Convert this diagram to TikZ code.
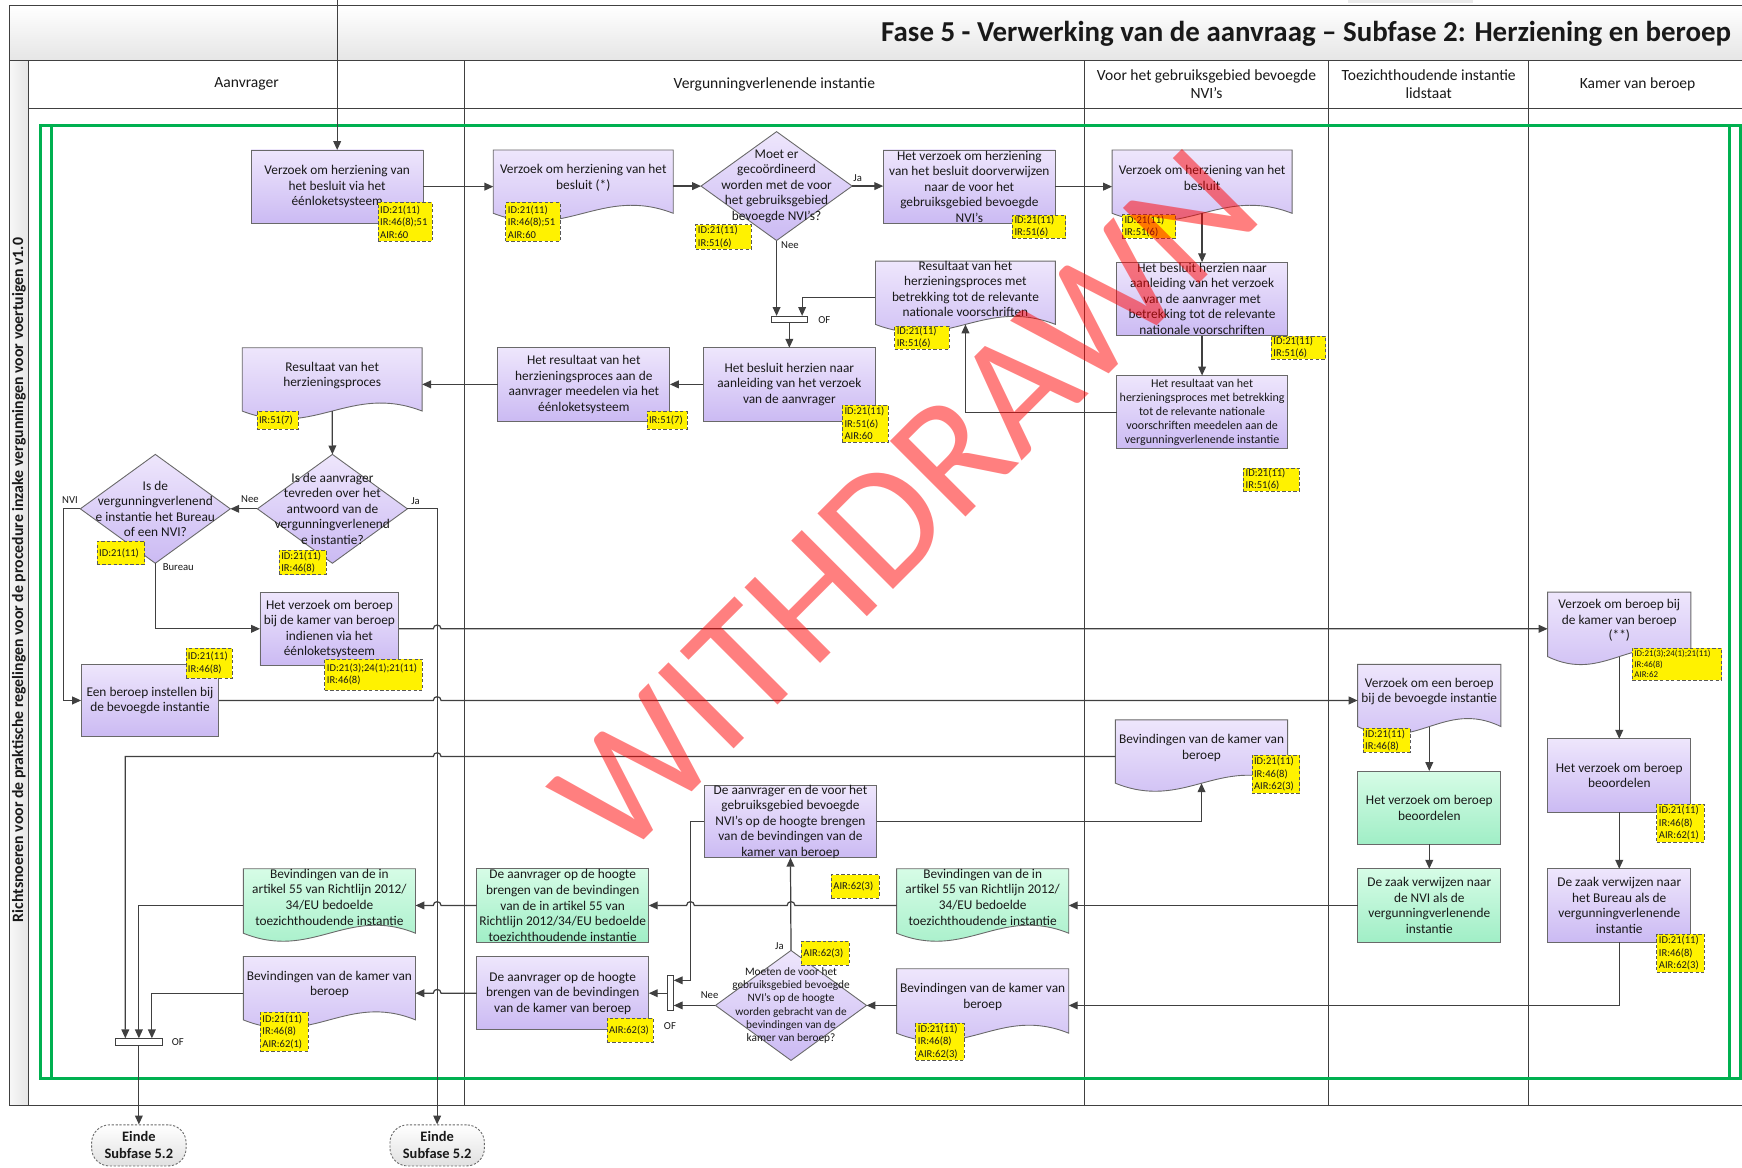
\documentclass[tikz,border=0pt]{standalone}
\usepackage{fontspec}
\setmainfont{Carlito}
\usetikzlibrary{shapes.geometric,arrows.meta,calc}
\definecolor{pTop}{RGB}{238,230,252}
\definecolor{pBot}{RGB}{203,186,243}
\definecolor{gTop}{RGB}{214,252,230}
\definecolor{gBot}{RGB}{160,238,198}
\definecolor{bordc}{RGB}{105,105,105}
\definecolor{linec}{RGB}{64,64,64}
\definecolor{frameg}{RGB}{0,176,80}
\definecolor{txtc}{RGB}{25,25,25}
\tikzset{
 shp/.style={draw=bordc, line width=0.8pt, inner sep=0pt, outer sep=0pt},
 pfill/.style={top color=pTop, bottom color=pBot},
 gfill/.style={top color=gTop, bottom color=gBot},
 txt/.style={font=\fontsize{12}{14}\selectfont, align=center, text=txtc, inner sep=0pt},
 ntxt/.style={font=\fontsize{10.8}{12.6}\selectfont, align=center, text=txtc, inner sep=0pt},
 dktxt/.style={font=\fontsize{10.2}{11.9}\selectfont, align=center, text=txtc, inner sep=0pt},
 note/.style={draw=black!65, dash pattern=on 3pt off 2pt, fill=yellow, font=\fontsize{9.5}{11.2}\selectfont, align=left, inner xsep=2pt, inner ysep=0pt, anchor=north west, text=txtc},
 flow/.style={draw=linec, line width=1.1pt, -{Triangle[length=8pt,width=7pt]}},
 lbl/.style={font=\fontsize{9.6}{11}\selectfont, text=txtc, inner sep=0pt},
 lane/.style={draw=linec, line width=0.9pt},
 hdr/.style={font=\fontsize{14}{16.5}\selectfont, align=center, text=txtc, inner sep=0pt},
 barbox/.style={draw=linec, fill=white, line width=0.8pt, inner sep=0pt},
 term/.style={draw=bordc, dash pattern=on 2pt off 1.5pt, rounded corners=16pt, top color=white, bottom color=black!12, line width=0.8pt, inner sep=0pt, align=center, font=\bfseries\fontsize{13}{15.3}\selectfont, text=txtc},
}
\newcommand\bx[8]{%
 \pgfmathsetmacro\mybw{#5-#3}\pgfmathsetmacro\mybh{#6-#4}%
 \node[shp,#2,minimum width=\mybw pt,minimum height=\mybh pt] (#1) at ({(#3+#5)/2},{(#4+#6)/2}) {};
 \node[#7] (#1t) at (#1.center) {#8};}
\newcommand\dc[8]{%
 \pgfmathsetmacro\mybw{#5-#3}\pgfmathsetmacro\mybh{#6-#4}\pgfmathsetmacro\mywa{0.4*(#5-#3)}%
 \node[inner sep=0pt,outer sep=0pt,minimum width=\mybw pt,minimum height=\mybh pt] (#1) at ({(#3+#5)/2},{(#4+#6)/2}) {};
 \path[shp,#2] (#1.north west) -- (#1.north east) -- (#1.south east) .. controls +(-\mywa,-25) and +(\mywa,25) .. (#1.south west) -- cycle;
 \node[#7] (#1t) at ([yshift=3.5pt]#1.center) {#8};}
\newcommand\dm[7]{%
 \node[shp,pfill,diamond,minimum width=#4pt,minimum height=#5pt] (#1) at (#2,#3) {};
 \node[#6] (#1t) at (#1.center) {#7};}
\newcommand\nt[6]{%
 \pgfmathsetmacro\mybw{#4-#2}\pgfmathsetmacro\mybh{#5-#3}\pgfmathsetmacro\mytw{#4-#2-4}%
 \node[note,minimum width=\mybw pt,minimum height=\mybh pt,text width=\mytw pt] (#1) at (#2,#3) {#6};}
\newcommand\hopR[1]{-- ($#1+(-3.5,0)$) .. controls +(0,-4.5) and +(0,-4.5) .. ($#1+(3.5,0)$)}
\newcommand\hopL[1]{-- ($#1+(3.5,0)$) .. controls +(0,-4.5) and +(0,-4.5) .. ($#1+(-3.5,0)$)}
\begin{document}
\begin{tikzpicture}[x=1pt,y=-1pt]
\useasboundingbox (0,0) rectangle (1568,1051);
\fill[white] (0,0) rectangle (1568,1051);
% ---------- frame ----------
\path[top color=white, bottom color=black!10] (8.3,4.8) rectangle (1570,54.3);
\path[left color=black!3, right color=black!10] (8.3,54.3) rectangle (25.5,995.4);
\fill[black!8] (1213,0) rectangle (1326,2.5);
\draw[lane] (1570,4.8) -- (8.3,4.8) -- (8.3,995.4) -- (1570,995.4);
\draw[lane] (8.3,54.3) -- (1570,54.3);
\draw[lane] (25.5,97.5) -- (1570,97.5);
\foreach \xx in {25.5,418.5,975.8,1196,1376} \draw[lane] (\xx,54.3) -- (\xx,995.4);
\draw[frameg, line width=2.6pt] (36.5,113) rectangle (1567,971);
\draw[frameg, line width=2.6pt] (46,113) -- (46,971);
\draw[frameg, line width=2.6pt] (1557,113) -- (1557,971);
\node[font=\bfseries\fontsize{26}{30}\selectfont, anchor=west, inner sep=0pt, text=txtc] (title) at (793,30) {Fase 5 - Verwerking van de aanvraag – Subfase 2: Herziening en beroep};
\node[rotate=90, font=\bfseries\fontsize{14.2}{16}\selectfont, inner sep=0pt, text=txtc] (strip) at (17,522) {Richtsnoeren voor de praktische regelingen voor de procedure inzake vergunningen voor voertuigen v1.0};
\node[hdr] (h1) at (222,75.6) {Aanvrager};
\node[hdr] (h2) at (697,75.6) {Vergunningverlenende instantie};
\node[hdr] (h3) at (1086,75.6) {Voor het gebruiksgebied bevoegde\\NVI’s};
\node[hdr] (h4) at (1286,75.6) {Toezichthoudende instantie\\lidstaat};
\node[hdr] (h5) at (1474,75.6) {Kamer van beroep};
% ---------- boxes ----------
\bx{A1}{pfill}{226}{135}{381}{201}{txt}{Verzoek om herziening van\\het besluit via het\\éénloketsysteem}
\bx{V2}{pfill}{795}{135}{950}{201}{txt}{Het verzoek om herziening\\van het besluit doorverwijzen\\naar de voor het\\gebruiksgebied bevoegde\\NVI’s}
\bx{N2}{pfill}{1005}{236}{1159}{302}{txt}{Het besluit herzien naar\\aanleiding van het verzoek\\van de aanvrager met\\betrekking tot de relevante\\nationale voorschriften}
\bx{N3}{pfill}{1005}{338}{1159}{404}{ntxt}{Het resultaat van het\\herzieningsproces met betrekking\\tot de relevante nationale\\voorschriften meedelen aan de\\vergunningverlenende instantie}
\bx{V3}{pfill}{633}{313}{788}{379}{txt}{Het besluit herzien naar\\aanleiding van het verzoek\\van de aanvrager}
\bx{V4}{pfill}{448}{313}{603}{379}{txt}{Het resultaat van het\\herzieningsproces aan de\\aanvrager meedelen via het\\éénloketsysteem}
\bx{A3}{pfill}{234}{533}{359}{599}{txt}{Het verzoek om beroep\\bij de kamer van beroep\\indienen via het\\éénloketsysteem}
\bx{A4}{pfill}{73}{598}{197}{663}{txt}{Een beroep instellen bij\\de bevoegde instantie}
\bx{V6}{pfill}{634}{707}{789}{772}{txt}{De aanvrager en de voor het\\gebruiksgebied bevoegde\\NVI’s op de hoogte brengen\\van de bevindingen van de\\kamer van beroep}
\bx{V7}{gfill}{429}{782}{584}{848}{txt}{De aanvrager op de hoogte\\brengen van de bevindingen\\van de in artikel 55 van\\Richtlijn 2012/34/EU bedoelde\\toezichthoudende instantie}
\bx{V8}{pfill}{429}{861}{584}{927}{txt}{De aanvrager op de hoogte\\brengen van de bevindingen\\van de kamer van beroep}
\bx{T2}{gfill}{1222}{694}{1351}{760}{txt}{Het verzoek om beroep\\beoordelen}
\bx{T3}{gfill}{1222}{782}{1351}{848}{txt}{De zaak verwijzen naar\\de NVI als de\\vergunningverlenende\\instantie}
\bx{K2}{pfill}{1393}{665}{1522}{731}{txt}{Het verzoek om beroep\\beoordelen}
\bx{K3}{pfill}{1393}{782}{1522}{848}{txt}{De zaak verwijzen naar\\het Bureau als de\\vergunningverlenende\\instantie}
% ---------- documents ----------
\dc{V1}{pfill}{444}{135}{606}{192}{txt}{Verzoek om herziening van het\\besluit (*)}
\dc{N1}{pfill}{1001}{135}{1163}{192}{txt}{Verzoek om herziening van het\\besluit}
\dc{V5}{pfill}{788}{235}{950}{292}{txt}{Resultaat van het\\herzieningsproces met\\betrekking tot de relevante\\nationale voorschriften}
\dc{A2}{pfill}{218}{313}{380}{370}{txt}{Resultaat van het\\herzieningsproces}
\dc{A5}{gfill}{219}{782}{374}{840}{txt}{Bevindingen van de in\\artikel 55 van Richtlijn 2012/\\34/EU bedoelde\\toezichthoudende instantie}
\dc{A6}{pfill}{219}{861}{374}{918}{txt}{Bevindingen van de kamer van\\beroep}
\dc{V9}{gfill}{807}{782}{962}{840}{txt}{Bevindingen van de in\\artikel 55 van Richtlijn 2012/\\34/EU bedoelde\\toezichthoudende instantie}
\dc{V10}{pfill}{807}{872}{962}{930}{txt}{Bevindingen van de kamer van\\beroep}
\dc{N4}{pfill}{1004}{648}{1159}{705}{txt}{Bevindingen van de kamer van\\beroep}
\dc{T1}{pfill}{1222}{598}{1351}{654}{txt}{Verzoek om een beroep\\bij de bevoegde instantie}
\dc{K1}{pfill}{1393}{533}{1522}{591}{txt}{Verzoek om beroep bij\\de kamer van beroep\\(**)}
% ---------- diamonds ----------
\dm{Dm}{699}{167.5}{136}{98}{txt}{Moet er\\gecoördineerd\\worden met de voor\\het gebruiksgebied\\bevoegde NVI’s?}
\dm{D1}{299.2}{458}{135}{98}{txt}{Is de aanvrager\\tevreden over het\\antwoord van de\\vergunningverlenend\\e instantie?}
\dm{D2}{139.8}{458}{135}{98}{txt}{Is de\\vergunningverlenend\\e instantie het Bureau\\of een NVI?}
\dm{Dk}{712}{905}{136}{99}{dktxt}{Moeten de voor het\\gebruiksgebied bevoegde\\NVI’s op de hoogte\\worden gebracht van de\\bevindingen van de\\kamer van beroep?}
% ---------- bars and terminators ----------
\node[barbox, minimum width=33pt, minimum height=5.5pt] (bar1) at (710.5,287.5) {};
\node[barbox, minimum width=42pt, minimum height=6pt] (barL) at (125,938) {};
\node[barbox, minimum width=5.5pt, minimum height=31pt] (bar2) at (603.3,893.7) {};
\node[term, minimum width=85pt, minimum height=37pt] (E1) at (125,1031) {Einde\\Subfase 5.2};
\node[term, minimum width=85pt, minimum height=37pt] (E2) at (393.5,1031) {Einde\\Subfase 5.2};
% ---------- notes ----------
\nt{n1}{340}{182}{389}{217}{ID:21(11)\\IR:46(8);51\\AIR:60}
\nt{n2}{455}{182}{504}{217}{ID:21(11)\\IR:46(8);51\\AIR:60}
\nt{n3}{626}{202}{676}{224}{ID:21(11)\\IR:51(6)}
\nt{n4}{911}{193.5}{959}{214}{ID:21(11)\\IR:51(6)}
\nt{n5}{1010}{193}{1058}{214}{ID:21(11)\\IR:51(6)}
\nt{n6}{1144}{302}{1193}{323}{ID:21(11)\\IR:51(6)}
\nt{n7}{1119}{421}{1169}{442}{ID:21(11)\\IR:51(6)}
\nt{n8}{805}{293}{854}{314}{ID:21(11)\\IR:51(6)}
\nt{n9}{758}{364.5}{799}{397.5}{ID:21(11)\\IR:51(6)\\AIR:60}
\nt{n10}{582}{370}{618}{386}{IR:51(7)}
\nt{n11}{231}{370}{268}{386}{IR:51(7)}
\nt{n12}{251}{495}{293}{517}{ID:21(11)\\IR:46(8)}
\nt{n13}{87}{487}{130}{508}{ID:21(11)}
\nt{n14}{292}{593}{380}{621}{ID:21(3);24(1);21(11)\\IR:46(8)}
\nt{n15}{167}{583}{209}{610}{ID:21(11)\\IR:46(8)}
\nt{n16}{234}{911}{277}{946}{ID:21(11)\\IR:46(8)\\AIR:62(1)}
\nt{n17}{748}{787}{791}{808}{AIR:62(3)}
\nt{n18}{546}{916.5}{588}{938}{AIR:62(3)}
\nt{n19}{721}{847}{764}{868.5}{AIR:62(3)}
\nt{n20}{824}{921}{867.5}{954}{ID:21(11)\\IR:46(8)\\AIR:62(3)}
\nt{n21}{1126.6}{679.5}{1169.5}{714}{ID:21(11)\\IR:46(8)\\AIR:62(3)}
\nt{n22}{1226.6}{655.5}{1269}{676.5}{ID:21(11)\\IR:46(8)}
\node[note, font=\fontsize{8}{9.5}\selectfont, minimum width=80.5pt, minimum height=29pt, text width=76.5pt] (n23) at (1469,583) {ID:21(3);24(1);21(11)\\IR:46(8)\\AIR:62};
\nt{n24}{1491}{723.6}{1534}{757.5}{ID:21(11)\\IR:46(8)\\AIR:62(1)}
\nt{n25}{1491}{840.6}{1534}{875}{ID:21(11)\\IR:46(8)\\AIR:62(3)}
% ---------- labels ----------
\node[lbl] (lJa1) at (772,160) {Ja};
\node[lbl] (lNee1) at (711,221) {Nee};
\node[lbl] (lOF1) at (742,288) {OF};
\node[lbl] (lNee2) at (225,449) {Nee};
\node[lbl] (lJa2) at (374,451) {Ja};
\node[lbl] (lNVI) at (63,450) {NVI};
\node[lbl] (lBur) at (160.5,510.6) {Bureau};
\node[lbl] (lOF2) at (160,938.4) {OF};
\node[lbl] (lJa3) at (701.6,852) {Ja};
\node[lbl] (lNee3) at (638.7,896) {Nee};
\node[lbl] (lOF3) at (603,924) {OF};
% ---------- connectors ----------
\coordinate (topin) at (303.5,0);
\coordinate (jx) at (393.5,458);
\coordinate (v6x) at ($(V6.west)+(-12.5,0)$);
\draw[flow] (topin) -- (A1.north);
\draw[flow] (A1.east) -- (A1.east -| V1.west);
\draw[flow] (Dm.west -| V1.east) -- (Dm.west);
\draw[flow] (Dm.east) -- (Dm.east -| V2.west);
\draw[flow] (V2.east) -- (V2.east -| N1.west);
\draw[flow] (N1.south) -- (N2.north);
\draw[flow] (N2.south) -- (N3.north);
\draw[flow] (N3.west) -| (V5.south);
\draw[flow] (Dm.south) -- (Dm.south |- bar1.north);
\draw[flow] ($(V5.west)+(0,4)$) -| ($(bar1.north)+(11.5,0)$);
\draw[flow] (bar1.south) -- (V3.north);
\draw[flow] (V3.west) -- (V4.east);
\draw[flow] (V4.west) -- (V4.west -| A2.east);
\draw[flow] (A2.south) -- (D1.north);
\draw[flow] (D1.west) -- (D2.east);
\draw[flow] (D1.east) -| (E2.north);
\draw[flow] (D2.west) -- ++(-15,0) |- (A4.west);
\draw[flow] (D2.south) |- (A3.west);
\draw[flow] (A3.east) \hopR{(jx|-A3.east)} -- (A3.east -| K1.west);
\draw[flow] (A4.east) \hopR{(jx|-A4.east)} -- (A4.east -| T1.west);
\draw[flow] (K1.south) -- (K2.north);
\draw[flow] (K2.south) -- (K3.north);
\draw[flow] (K3.south) |- (Dk.east -| V10.east);
\draw[flow] (T1.south) -- (T2.north);
\draw[flow] (T2.south) -- (T3.north);
\draw[flow] (T3.west) -- (T3.west -| V9.east);
\draw[flow] (V7.east -| V9.west) \hopL{(Dk.north |- V7.east)} \hopL{(v6x |- V7.east)} -- (V7.east);
\draw[flow] (V7.west) \hopL{(jx|-V7.west)} -- (V7.west -| A5.east);
\draw[flow] (V7.west -| A5.west) -| (barL.north);
\draw[flow] (V10.west |- Dk.east) -- (Dk.east);
\draw[flow] (Dk.north) -- (V6.south);
\draw[flow] (Dk.west) -- (Dk.west -| bar2.east);
\draw[flow] (V6.west) -- (v6x) |- ($(bar2.north east)+(0,4.6)$);
\draw[flow] (V6.east) -| (N4.south);
\draw[flow] ($(N4.west)+(0,4.5)$) \hopL{($(jx|-N4.west)+(0,4.5)$)} -| ($(barL.north)+(-12.2,0)$);
\draw[flow] (bar2.west |- V8.east) -- (V8.east);
\draw[flow] (V8.west) \hopL{(jx|-V8.west)} -- (V8.west -| A6.east);
\draw[flow] (V8.west -| A6.west) -| ($(barL.north)+(11.7,0)$);
\draw[flow] (barL.south) -- (E1.north);
% ---------- watermark ----------
\node[text=red, opacity=0.5, rotate=45, font=\fontsize{150}{150}\selectfont, inner sep=0pt] (wm) at (815,452) {WITHDRAWN};
\end{tikzpicture}
\end{document}
